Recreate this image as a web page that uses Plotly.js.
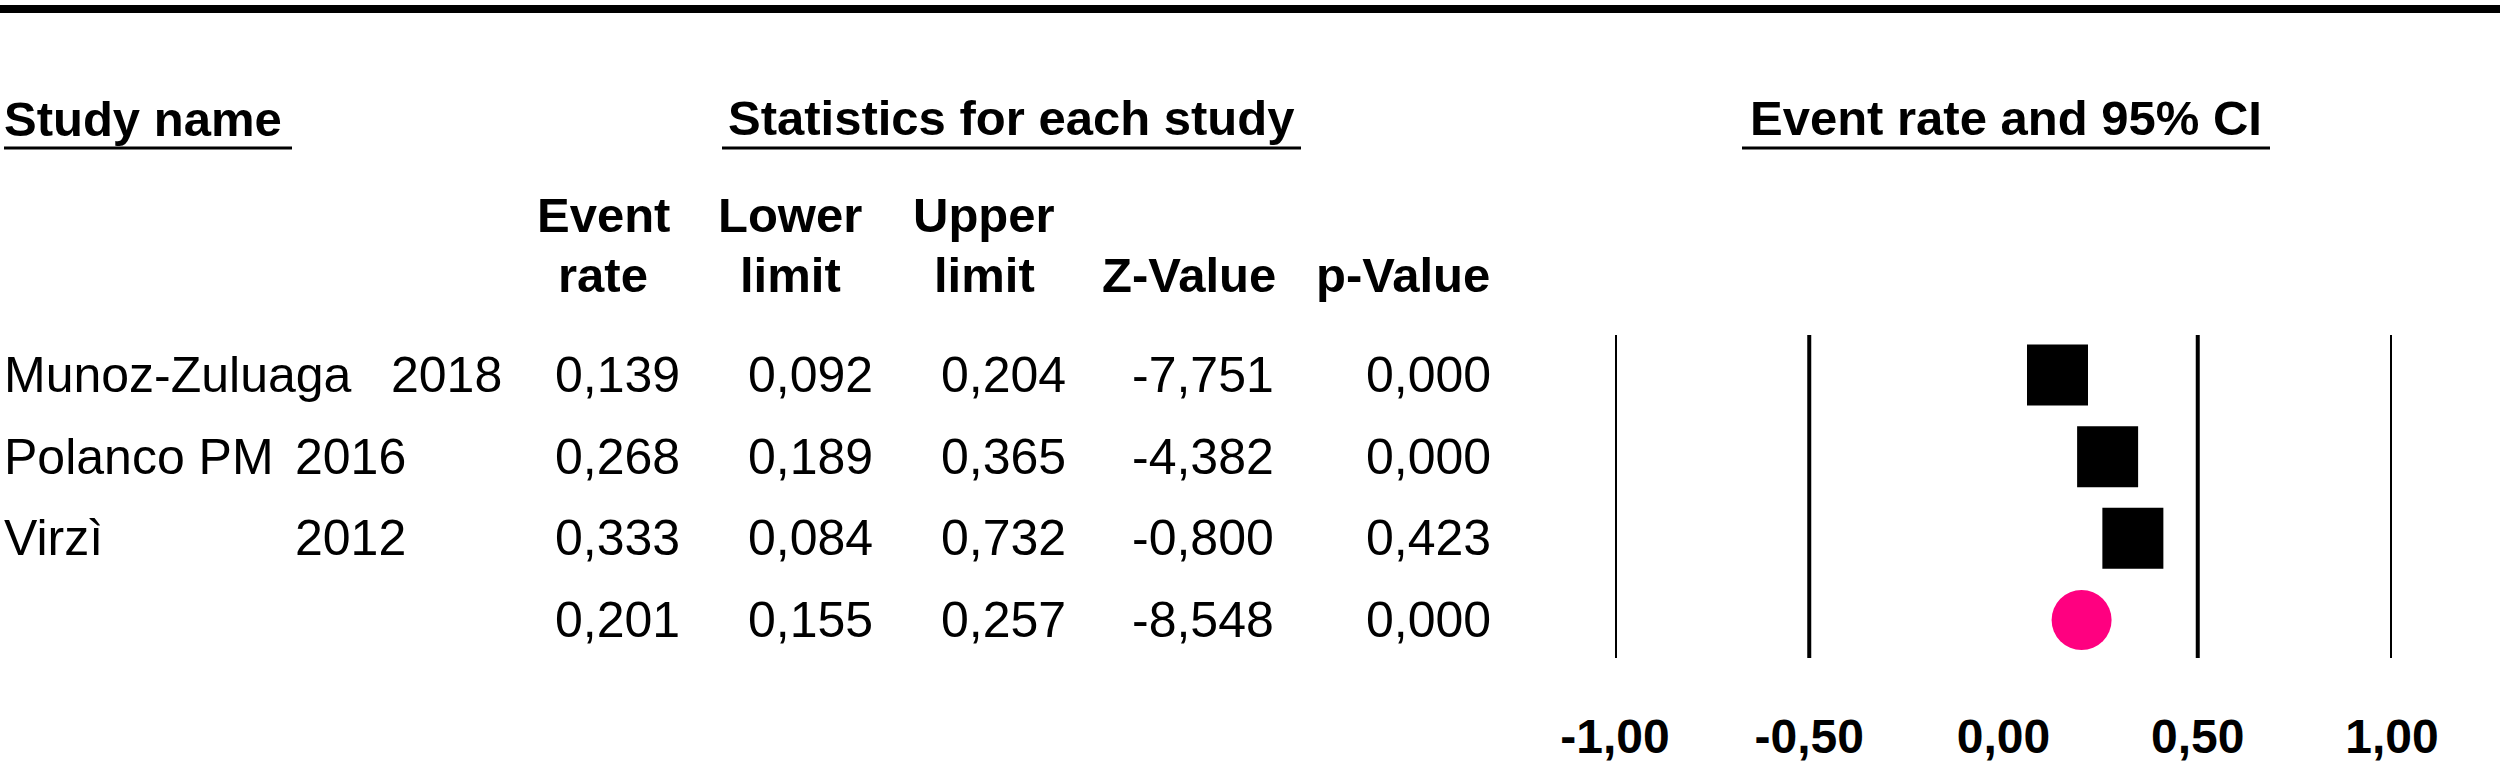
<!DOCTYPE html>
<html>
<head>
<meta charset="utf-8">
<script src="https://cdn.plot.ly/plotly-3.0.1.min.js"></script>
<style>
  html, body { margin: 0; padding: 0; background: #ffffff; }
  #chart { width: 2500px; height: 772px; }
</style>
</head>
<body>
<div id="chart"></div>
<script>
// ---------- data ----------
const studyNames = ['Munoz-Zuluaga', 'Polanco PM', 'Virzì'];
const studyYears = ['2018', '2016', '2012'];
const eventRate = [0.139, 0.268, 0.333];
const lowerLimit = [0.092, 0.189, 0.084];
const upperLimit = [0.204, 0.365, 0.732];
const zValue = [-7.751, -4.382, -0.800];
const pValue = [0.000, 0.000, 0.423];

const summaryRate = 0.201;
const summaryLower = 0.155;
const summaryUpper = 0.257;
const summaryZ = -8.548;
const summaryP = 0.000;

const tickVals = [-1, -0.5, 0, 0.5, 1];
const tickText = ['-1,00', '-0,50', '0,00', '0,50', '1,00'];
const gridVals = [-1, -0.5, 0.5, 1];

const colHeadTop = ['Event', 'Lower', 'Upper', '', ''];
const colHeadBottom = ['rate', 'limit', 'limit', 'Z-Value', 'p-Value'];

// ---------- layout helpers (pixel geometry) ----------
const W = 2500, H = 772;
const FONT = 'Liberation Sans, Arial, sans-serif';
const px = v => v / W;
const py = v => 1 - v / H;
const fmt = v => v.toFixed(3).replace('.', ',');

const rowsY = [1, 2, 3];
const summaryY = 4;

const annotations = [];
function addText(text, x, y, opts) {
  annotations.push(Object.assign({
    text: text, x: x, y: y, xref: 'paper', yref: 'paper',
    showarrow: false, xanchor: 'left', yanchor: 'middle',
    font: {family: FONT, size: 50, color: '#000000'},
    borderpad: 0
  }, opts || {}));
}
const bold = {family: FONT, size: 49, color: '#000000', weight: 'bold'};

// section headers
addText('Study name', px(3), py(119), {font: bold});
addText('Statistics for each study', px(1011), py(118), {font: bold, xanchor: 'center'});
addText('Event rate and 95% CI', px(2006), py(118), {font: bold, xanchor: 'center'});

// column headers
const colHeadX = [603, 790, 984, 1189, 1403];
colHeadTop.forEach((t, i) => { if (t) addText(t, px(colHeadX[i]), py(215), {font: bold, xanchor: 'center'}); });
colHeadBottom.forEach((t, i) => addText(t, px(colHeadX[i]), py(275), {font: bold, xanchor: 'center'}));

// numeric columns (right aligned)
const colRight = [681, 874, 1067, 1275, 1492];
const yearRight = [503, 407, 407];
studyNames.forEach((n, i) => {
  addText(n, px(3), rowsY[i], {yref: 'y'});
  addText(studyYears[i], px(yearRight[i]), rowsY[i], {yref: 'y', xanchor: 'right'});
  const vals = [eventRate[i], lowerLimit[i], upperLimit[i], zValue[i], pValue[i]];
  vals.forEach((v, j) => addText(fmt(v), px(colRight[j]), rowsY[i], {yref: 'y', xanchor: 'right'}));
});
[summaryRate, summaryLower, summaryUpper, summaryZ, summaryP].forEach((v, j) =>
  addText(fmt(v), px(colRight[j]), summaryY, {yref: 'y', xanchor: 'right'}));

// ---------- shapes ----------
const shapes = [];
// top rule
shapes.push({type: 'line', xref: 'paper', yref: 'paper', x0: 0, x1: 1, y0: py(9), y1: py(9),
  line: {color: '#000000', width: 8}});
// underlines
[[4, 292], [722, 1301], [1742, 2270]].forEach(([a, b]) =>
  shapes.push({type: 'line', xref: 'paper', yref: 'paper', x0: px(a), x1: px(b), y0: py(148), y1: py(148),
    line: {color: '#000000', width: 3}}));
// reference lines in the forest panel
const rowPx = 81.67;
gridVals.forEach(g => shapes.push({type: 'line', xref: 'x', yref: 'y', x0: g, x1: g,
  y0: 1 - 40 / rowPx, y1: 4 + 38 / rowPx, line: {color: '#000000', width: 4}, layer: 'below'}));

// ---------- traces ----------
const traces = [
  {type: 'scatter', mode: 'markers', x: eventRate, y: rowsY,
   marker: {symbol: 'square', size: 61, color: '#000000', line: {width: 0}},
   hoverinfo: 'skip', showlegend: false},
  {type: 'scatter', mode: 'markers', x: [summaryRate], y: [summaryY],
   marker: {symbol: 'circle', size: 60, color: '#ff0080', line: {width: 0}},
   hoverinfo: 'skip', showlegend: false}
];

// ---------- axes ----------
const plotBottom = 700;
const yTop = 1 - 375 / rowPx;
const yBottom = 1 + (plotBottom - 375) / rowPx;

const layout = {
  width: W, height: H,
  margin: {l: 0, r: 0, t: 0, b: 0},
  paper_bgcolor: '#ffffff', plot_bgcolor: 'rgba(0,0,0,0)',
  showlegend: false,
  xaxis: {
    domain: [px(1615), px(2392)], range: [-1, 1],
    tickvals: tickVals, ticktext: tickText,
    tickfont: {family: FONT, size: 48, color: '#000000', weight: 'bold'},
    ticks: '', showgrid: false, zeroline: false, showline: false,
    fixedrange: true, automargin: false, ticklabelstandoff: 4
  },
  yaxis: {
    domain: [1 - plotBottom / H, 1], range: [yBottom, yTop],
    showticklabels: false, ticks: '', showgrid: false, zeroline: false, showline: false,
    fixedrange: true, automargin: false
  },
  shapes: shapes,
  annotations: annotations
};

Plotly.newPlot('chart', traces, layout, {staticPlot: true, displayModeBar: false});
</script>
</body>
</html>
